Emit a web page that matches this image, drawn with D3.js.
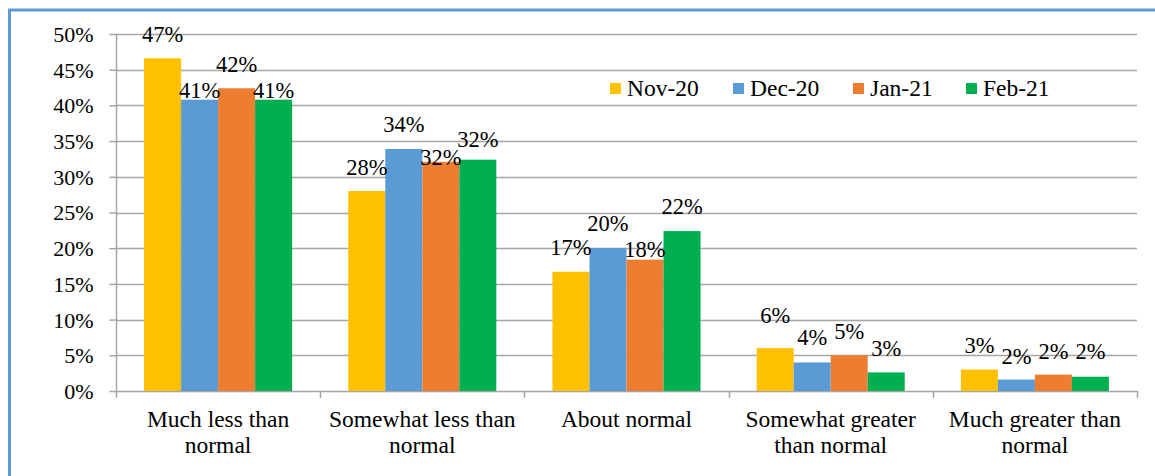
<!DOCTYPE html>
<html>
<head>
<meta charset="utf-8">
<script src="https://cdn.jsdelivr.net/npm/d3@7/dist/d3.min.js"></script>
<style>
  html, body { margin: 0; padding: 0; background: #fff; }
  svg { display: block; }
  text { font-family: "Liberation Serif", "Times New Roman", serif; fill: #000; }
</style>
</head>
<body>
<svg id="chart" width="1155" height="476"></svg>
<script>
// ---- data ----
const categories = [["Much less than", "normal"], ["Somewhat less than", "normal"], ["About normal"], ["Somewhat greater", "than normal"], ["Much greater than", "normal"]];
const seriesNames = ["Nov-20", "Dec-20", "Jan-21", "Feb-21"];
const nov20 = [0.466, 0.280, 0.167, 0.060, 0.030];
const dec20 = [0.408, 0.339, 0.200, 0.040, 0.016];
const jan21 = [0.424, 0.321, 0.184, 0.050, 0.023];
const feb21 = [0.408, 0.324, 0.224, 0.026, 0.020];
const yTicks = [0, 0.05, 0.10, 0.15, 0.20, 0.25, 0.30, 0.35, 0.40, 0.45, 0.50];

// ---- layout / style ----
const colors = ["#FFC000", "#5B9BD5", "#ED7D31", "#00B050"];
const series = [nov20, dec20, jan21, feb21];
// vertical distance of label baseline above bar top (per category, per series)
const labelLift = [
  [16, 2, 16, 2],
  [16, 17, -3, 13],
  [17, 17, 3, 17],
  [25, 17, 16, 16],
  [17, 16, 16, 18]
];

const svg = d3.select("#chart");
const plotLeft = 116, plotRight = 1137, plotTop = 34, plotBottom = 391;

const x0 = d3.scaleBand().domain(d3.range(categories.length)).range([plotLeft, plotRight])
  .paddingInner(0.275).paddingOuter(0.1375);
const x1 = d3.scaleBand().domain(d3.range(series.length)).range([0, x0.bandwidth()]).padding(0);
const y = d3.scaleLinear().domain([0, 0.5]).range([plotBottom, plotTop]);

// frame
svg.append("rect").attr("x", 9.5).attr("y", 10).attr("width", 1200).attr("height", 520)
  .attr("fill", "none").attr("stroke", "#5B9BD5").attr("stroke-width", 3);

// gridlines
svg.append("g").selectAll("line").data(yTicks.slice(1)).join("line")
  .attr("x1", plotLeft).attr("x2", plotRight)
  .attr("y1", d => Math.round(y(d)) + 0.5).attr("y2", d => Math.round(y(d)) + 0.5)
  .attr("stroke", "#A6A6A6").attr("stroke-width", 1.5);

// y axis
const yAxis = d3.axisLeft(y).tickValues(yTicks).tickFormat(d3.format(".0%")).tickSize(7).tickPadding(16);
const gy = svg.append("g").attr("transform", `translate(${plotLeft + 0.5},0)`).call(yAxis);
gy.select(".domain").attr("stroke", "#A6A6A6").attr("stroke-width", 1.5).attr("d", `M0,${plotBottom + 0.5}V${plotTop}`);
gy.selectAll(".tick line").attr("stroke", "#A6A6A6").attr("stroke-width", 1.5);
gy.selectAll(".tick text").attr("font-size", "22px").attr("font-family", "Liberation Serif").attr("fill", "#000").attr("dy", "0.34em");

// x axis
svg.append("line").attr("x1", plotLeft).attr("x2", plotRight).attr("y1", plotBottom + 0.5).attr("y2", plotBottom + 0.5)
  .attr("stroke", "#A6A6A6").attr("stroke-width", 1.5);
const boundaries = d3.range(categories.length + 1).map(i => plotLeft + i * x0.step());
svg.append("g").selectAll("line").data(boundaries).join("line")
  .attr("x1", d => Math.round(d) + 0.5).attr("x2", d => Math.round(d) + 0.5)
  .attr("y1", plotBottom).attr("y2", plotBottom + 7)
  .attr("stroke", "#A6A6A6").attr("stroke-width", 1.5);

// category labels
const catG = svg.append("g").selectAll("text").data(categories).join("text")
  .attr("text-anchor", "middle").attr("font-size", "23.5px")
  .attr("x", (d, i) => x0(i) + x0.bandwidth() / 2)
  .attr("y", 427);
catG.selectAll("tspan").data(d => d).join("tspan")
  .attr("x", function () { return d3.select(this.parentNode).attr("x"); })
  .attr("dy", (d, i) => i === 0 ? 0 : 26)
  .text(d => d);

// bars
const groups = svg.append("g").selectAll("g").data(categories).join("g")
  .attr("transform", (d, i) => `translate(${x0(i)},0)`);
groups.selectAll("rect").data((d, ci) => series.map((s, si) => ({ ci, si, v: s[ci] }))).join("rect")
  .attr("x", d => x1(d.si))
  .attr("width", x1.bandwidth())
  .attr("y", d => y(d.v))
  .attr("height", d => y(0) - y(d.v))
  .attr("fill", d => colors[d.si]);

// data labels
groups.selectAll("text").data((d, ci) => series.map((s, si) => ({ ci, si, v: s[ci] }))).join("text")
  .attr("text-anchor", "middle").attr("font-size", "22.5px")
  .attr("x", d => x1(d.si) + x1.bandwidth() / 2)
  .attr("y", d => y(d.v) - labelLift[d.ci][d.si])
  .text(d => d3.format(".0%")(d.v));

// legend
const legendX = [610, 733, 853, 966];
const lg = svg.append("g");
lg.append("rect").attr("x", 598).attr("y", 72).attr("width", 495).attr("height", 31).attr("fill", "#fff");
const items = lg.selectAll("g").data(seriesNames).join("g")
  .attr("transform", (d, i) => `translate(${legendX[i]},0)`);
items.append("rect").attr("x", 0).attr("y", 83).attr("width", 11).attr("height", 11).attr("fill", (d, i) => colors[i]);
items.append("text").attr("x", 17).attr("y", 96).attr("font-size", "23.5px").text(d => d);
</script>
</body>
</html>
